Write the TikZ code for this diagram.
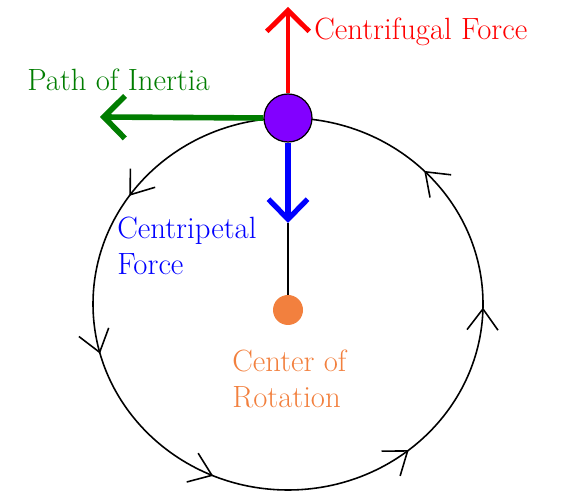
\documentclass[tikz,border=0pt]{standalone}
\usepackage{tikz}
\usetikzlibrary{arrows.meta, positioning, decorations.markings}
\definecolor{cfred}{RGB}{255, 0, 0}
\definecolor{inertgreen}{RGB}{0, 125, 0}
\definecolor{cpblue}{RGB}{0, 0, 255}
\definecolor{ballpurple}{RGB}{130, 0, 255}
\definecolor{centreorange}{RGB}{242, 128, 62}

\tikzset{
  force/.style={line width=2.8pt, -{Straight Barb[length=0.42cm, width=0.85cm]}},
  txt/.style={font=\fontsize{17.5}{21}\selectfont, inner sep=0pt},
  orbit/.style={line width=0.9pt, postaction={decorate}, decoration={markings,
    mark=at position 0.125 with {\arrow{Straight Barb[length=0.42cm, width=0.62cm]}},
    mark=at position 0.403 with {\arrow{Straight Barb[length=0.42cm, width=0.62cm]}},
    mark=at position 0.542 with {\arrow{Straight Barb[length=0.42cm, width=0.62cm]}},
    mark=at position 0.686 with {\arrow{Straight Barb[length=0.42cm, width=0.62cm]}},
    mark=at position 0.858 with {\arrow{Straight Barb[length=0.42cm, width=0.62cm]}},
    mark=at position 0.997 with {\arrow{Straight Barb[length=0.42cm, width=0.62cm]}}}}
}

\begin{document}
\begin{tikzpicture}
  \useasboundingbox (0, 0) rectangle (11.38, 9.88);

  % Orbit of the body
  \draw[orbit] (5.76, 3.80) ellipse [x radius=3.90, y radius=3.72];

  % Body and centre
  \node[circle, fill=ballpurple, draw=black, line width=0.7pt, minimum size=0.96cm, inner sep=0pt] (ball) at (5.76, 7.52) {};
  \node[circle, fill=centreorange, minimum size=0.6cm, inner sep=0pt] (centre) at (5.76, 3.68) {};

  \coordinate (cfTip) at (5.76, 9.74);
  \coordinate (inTip) at (2.00, 7.54);
  \coordinate (cpTip) at (5.76, 5.42);

  % Forces
  \draw[force, cfred] (ball.north) -- (cfTip);
  \draw[force, inertgreen, line width=3.2pt] (ball.west) -- (inTip);
  \draw[line width=1.2pt] (cpTip) -- (centre.north);
  \draw[force, cpblue, line width=3pt, -{Straight Barb[length=0.4cm, width=0.78cm]}] (ball.south) -- (cpTip);

  % Labels (base = last line)
  \node[txt, text=cfred, anchor=base west] (cfText) at (6.28, 9.08) {Centrifugal Force};
  \node[txt, text=inertgreen, anchor=base west] (inText) at (0.54, 8.06) {Path of Inertia};
  \node[txt, text=cpblue, anchor=base west, align=left] (cpText) at (2.34, 4.38) {Centripetal\\Force};
  \node[txt, text=centreorange, anchor=base west, align=left] (centreText) at (4.64, 1.72) {Center of\\Rotation};
\end{tikzpicture}
\end{document}
